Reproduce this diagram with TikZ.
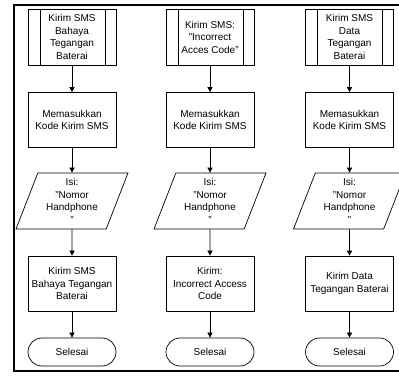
\documentclass[tikz,border=0pt]{standalone}
\usepackage{fontspec}
\setmainfont{Liberation Sans}
\usetikzlibrary{arrows.meta,shapes.geometric}

\tikzset{
  teks/.style={align=center, font=\fontsize{10}{12.5}\selectfont},
  kotak/.style={teks, draw, line width=0.7pt, minimum width=88pt, inner sep=1pt},
  subproses/.style={kotak, minimum height=56pt,
    path picture={
      \draw[line width=0.7pt] ([xshift=12pt]path picture bounding box.north west) -- ([xshift=12pt]path picture bounding box.south west);
      \draw[line width=0.7pt] ([xshift=-11pt]path picture bounding box.north east) -- ([xshift=-11pt]path picture bounding box.south east);
    }},
  proses/.style={kotak, minimum height=55pt},
  masukan/.style={teks, draw, line width=0.7pt, trapezium, trapezium left angle=64, trapezium right angle=116,
    trapezium stretches body, minimum width=112pt, minimum height=56pt, inner sep=0pt},
  akhir/.style={kotak, minimum height=28pt, rounded corners=14pt},
  panah/.style={-{Triangle[length=5pt,width=5pt]}, line width=0.7pt}
}

\begin{document}
\begin{tikzpicture}[x=1pt, y=-1pt]
\useasboundingbox (0,0) rectangle (399,379);

% bingkai
\draw[line width=2pt] (399,5.5) -- (14,5.5) -- (14,371) -- (399,371);

% kolom 1
\node[subproses] (a1) at (72,37) {Kirim SMS\\Bahaya\\Tegangan\\Baterai};
\node[proses] (b1) at (72,120) {Memasukkan\\Kode Kirim SMS};
\node[masukan] (c1) at (72,201) {Isi:\\"Nomor\\Handphone\\"};
\node[proses] (d1) at (72,283.5) {Kirim SMS\\Bahaya Tegangan\\Baterai};
\node[akhir] (e1) at (72,352) {Selesai};

% kolom 2
\node[subproses] (a2) at (210,37) {Kirim SMS:\\"Incorrect\\Acces Code"};
\node[proses] (b2) at (210,120) {Memasukkan\\Kode Kirim SMS};
\node[masukan] (c2) at (210,201) {Isi:\\"Nomor\\Handphone\\"};
\node[proses] (d2) at (210,283.5) {Kirim:\\Incorrect Access\\Code};
\node[akhir] (e2) at (210,352) {Selesai};

% kolom 3
\node[subproses] (a3) at (349.5,37) {Kirim SMS\\Data\\Tegangan\\Baterai};
\node[proses] (b3) at (349.5,120) {Memasukkan\\Kode Kirim SMS};
\node[masukan] (c3) at (349.5,201) {Isi:\\"Nomor\\Handphone\\"};
\node[proses] (d3) at (349.5,283.5) {Kirim Data\\Tegangan Baterai};
\node[akhir] (e3) at (349.5,352) {Selesai};

% panah
\foreach \i in {1,2,3} {
    \draw[panah] (a\i) -- (b\i);
    \draw[panah] (b\i) -- (c\i);
    \draw[panah] (c\i) -- (d\i);
    \draw[panah] (d\i) -- (e\i);
}

\end{tikzpicture}
\end{document}
